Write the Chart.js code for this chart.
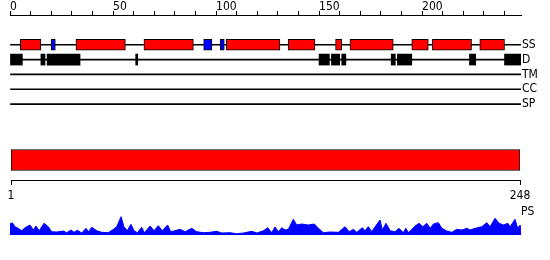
<!DOCTYPE html>
<html>
<head>
<meta charset="utf-8">
<script src="https://cdn.jsdelivr.net/npm/chart.js@4.4.0/dist/chart.umd.min.js"></script>
<style>
    body { margin: 0; background: #fff; width: 550px; height: 260px; position: relative; overflow: hidden; font-family: 'DejaVu Sans Condensed', 'DejaVu Sans', sans-serif; }
    canvas { position: absolute; left: 0; }
    #track_chart { top: 0; }
    #len_chart { top: 140px; }
    #ps_chart { top: 204px; }
    #ps_label { position: absolute; left: 521px; top: 205px; font-size: 12px; line-height: 12px; color: #000; }
</style>
</head>
<body>
<canvas id="track_chart" width="550" height="126"></canvas>
<canvas id="len_chart" width="550" height="70"></canvas>
<canvas id="ps_chart" width="550" height="31"></canvas>
<div id="ps_label">PS</div>
<script>
const seqLength = 248;
const rows = ['', '', 'SS', 'D', 'TM', 'CC', 'SP', ''];
const trackRows = ['SS', 'D', 'TM', 'CC', 'SP'];
const helixSegs = [[5, 15], [32, 56], [65, 89], [105, 131], [135, 148], [158, 161], [165, 186], [195, 203], [205, 224], [228, 240]];
const strandSegs = [[20, 22], [94, 98], [102, 104]];
const disorderSegs = [[0, 6], [15, 17], [18, 34], [61, 62], [150, 155], [156, 160], [161, 163], [185, 187], [188, 195], [223, 226], [240, 248]];
const lenTicks = [1, 248];

// PS profile (residue position / score)
const psPos = [0, 1.1, 2.4, 4.0, 5.7, 7.3, 9.7, 11.3, 12.6, 14.2,
    16.5, 18.6, 20.2, 22.7, 25.9, 27.5, 29.6, 31.1, 32.7, 34.8,
    36.9, 38.0, 39.7, 42.1, 44.5, 47.7, 50.2, 51.8, 53.9, 55.3,
    56.9, 58.7, 60.2, 61.8, 63.9, 65.2, 68.0, 69.9, 72.0, 73.9,
    76.5, 78.0, 80.1, 82.5, 85.0, 88.2, 90.6, 93.8, 97.1, 100.3,
    102.8, 106.8, 110.0, 113.3, 117.3, 119.8, 123.0, 125.1, 127.0, 128.6,
    130.3, 131.9, 133.5, 135.1, 137.5, 139.2, 141.6, 144.8, 147.7, 149.7,
    152.1, 155.3, 159.4, 162.6, 164.6, 166.7, 168.3, 171.0, 172.3, 173.9,
    175.6, 177.2, 179.6, 180.7, 182.5, 184.5, 186.9, 188.8, 190.9, 192.1,
    193.4, 196.6, 198.5, 200.3, 202.3, 203.9, 205.5, 207.9, 209.6, 212.0,
    214.4, 216.8, 219.3, 221.7, 223.3, 225.7, 229.0, 231.4, 233.0, 235.4,
    237.4, 239.5, 241.6, 242.7, 245.1, 246.4, 247.6, 248.0];
const psVal = [11, 12.3, 8.3, 6.7, 4.3, 7.3, 10, 5, 9, 4.3,
    11.7, 8.3, 3.3, 3, 4, 2.3, 5, 2.7, 4.7, 2,
    6.7, 3.3, 7.7, 4.3, 2.7, 2.3, 5.7, 8.3, 18.3, 8.3,
    4.3, 10.7, 4.3, 2.3, 7.7, 2.3, 9, 4.3, 9.3, 4.3,
    10, 3.3, 4.3, 5.7, 3.3, 6.7, 3.3, 2.3, 2.7, 3.7,
    2, 2.3, 1.3, 2, 3.7, 2, 4.3, 7.3, 2.3, 8,
    3.3, 7.3, 5, 5.7, 15.7, 10, 11, 10, 11, 6.7,
    2.3, 3, 2.7, 8.3, 3.3, 5.7, 2.7, 7.3, 4.3, 8.3,
    3.3, 8.3, 15, 5, 11.7, 4.3, 3.3, 6.7, 2.3, 6.7,
    2.3, 9, 11.7, 8.3, 11.7, 6.7, 11, 12.3, 6.7, 4,
    2.7, 5.7, 5, 6.7, 5, 6.7, 8.3, 12.3, 8.3, 16.7,
    11.7, 10, 11.7, 8.3, 15.7, 6.7, 10, 1.7];

const labelFont = { family: "'DejaVu Sans Condensed', 'DejaVu Sans', sans-serif", size: 12, lineHeight: 1 };
const noPlugins = { legend: { display: false }, tooltip: { enabled: false } };

const segData = (segs, row) => segs.map(s => ({ x: s, y: row }));

const trackChart = new Chart(document.getElementById('track_chart'), {
    type: 'bar',
    data: {
        labels: rows,
        datasets: [
            { label: 'helix', data: segData(helixSegs, 'SS'), backgroundColor: '#ff0000', borderColor: '#000', borderWidth: 1, borderSkipped: false, barThickness: 11 },
            { label: 'strand', data: segData(strandSegs, 'SS'), backgroundColor: '#0000ff', borderColor: '#000', borderWidth: 1, borderSkipped: false, barThickness: 11 },
            { label: 'disorder', data: segData(disorderSegs, 'D'), backgroundColor: '#000', barThickness: 11 },
            { label: 'track', data: trackRows.map(r => ({ x: [0, seqLength], y: r })), backgroundColor: '#000', barThickness: 1 }
        ]
    },
    options: {
        indexAxis: 'y',
        responsive: false,
        animation: false,
        datasets: { bar: { grouped: false } },
        layout: { padding: { left: 10, right: 0, top: 0, bottom: 6 } },
        scales: {
            x: {
                type: 'linear', position: 'top', min: 0, max: seqLength,
                ticks: {
                    stepSize: 10, includeBounds: false, autoSkip: false, maxRotation: 0,
                    align: 'start', padding: -2, color: '#000', font: labelFont,
                    callback: v => (v % 50 === 0 ? String(v) : '')
                },
                grid: { drawOnChartArea: false, tickLength: 4, color: '#000' },
                border: { color: '#000' },
                afterFit: (scale) => { scale.height = 15; }
            },
            y: {
                type: 'category', position: 'right', offset: false,
                grid: { display: false, drawTicks: false },
                border: { display: false },
                ticks: { padding: 1, autoSkip: false, color: '#000', font: labelFont },
                afterFit: (scale) => { scale.width = 29; }
            }
        },
        plugins: noPlugins
    }
});

const lenChart = new Chart(document.getElementById('len_chart'), {
    type: 'bar',
    data: {
        labels: ['seq'],
        datasets: [{ data: [[1, seqLength]], backgroundColor: '#ff0000', borderColor: '#000', borderWidth: 1, borderSkipped: false, barThickness: 21 }]
    },
    options: {
        indexAxis: 'y',
        responsive: false,
        animation: false,
        layout: { padding: { left: 11, right: 30 } },
        scales: {
            x: {
                type: 'linear', min: 1, max: seqLength,
                afterBuildTicks: (scale) => { scale.ticks = lenTicks.map(v => ({ value: v })); },
                ticks: { autoSkip: false, maxRotation: 0, padding: 4, color: '#000', font: { ...labelFont, lineHeight: 1.2 } },
                grid: { drawOnChartArea: false, tickLength: 5, color: '#000' },
                border: { color: '#000' },
                afterFit: (scale) => { scale.height = 30; }
            },
            y: { display: false }
        },
        plugins: noPlugins
    }
});

const psChart = new Chart(document.getElementById('ps_chart'), {
    type: 'line',
    data: {
        datasets: [{
            data: psPos.map((p, i) => ({ x: p, y: psVal[i] })),
            fill: 'origin',
            backgroundColor: '#0000ff',
            borderColor: '#0000ff',
            borderWidth: 1,
            pointRadius: 0,
            tension: 0
        }]
    },
    options: {
        responsive: false,
        animation: false,
        layout: { padding: { left: 10, right: 29 } },
        scales: {
            x: { type: 'linear', display: false, min: 0, max: seqLength },
            y: { display: false, min: 0, max: 31 }
        },
        plugins: noPlugins
    }
});
</script>
</body>
</html>
